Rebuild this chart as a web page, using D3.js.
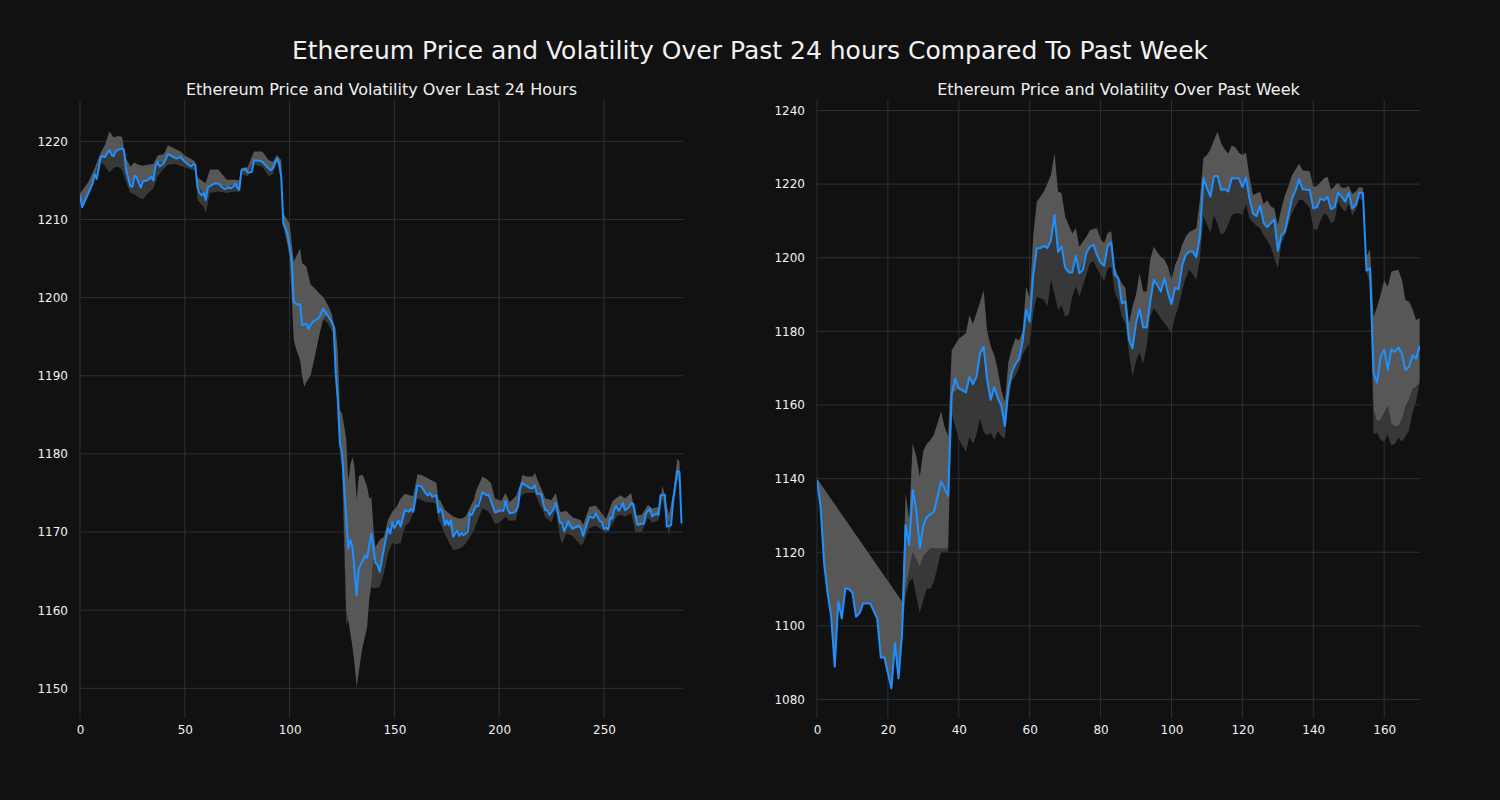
<!DOCTYPE html>
<html><head><meta charset="utf-8">
<script src="https://cdn.jsdelivr.net/npm/d3@7"></script>
<style>body{margin:0;background:#111111;} svg{display:block}</style>
</head><body>
<svg id="chart" width="1500" height="800"></svg>
<script>
// ---------- Past 24 hours (5-minute steps) ----------
const dayX = [0,1,4,6,7,8,10,12,13,14,15,16,17,18,20,21,22,24,25,26,27,29,30,32,34,35,36,37,38,40,42,44,46,48,50,52,53,54,55,56,57,58,59,60,61,64,66,68,69,71,72,73,74,75,76,77,79,80,82,83,86,87,89,91,92,94,95,96,97,99,101,102,103,104,105,106,108,109,110,111,114,116,118,120,121,122,123,124,125,128,129,130,132,133,135,136,137,139,141,142,143,145,147,148,149,150,152,153,155,157,158,159,161,163,165,166,167,168,170,171,172,173,174,175,176,177,178,180,181,182,183,185,186,187,189,190,192,194,195,196,198,200,201,202,203,204,205,207,208,209,210,211,213,215,216,217,218,220,221,222,223,224,226,227,229,230,231,233,235,236,238,239,240,241,243,245,246,248,249,250,251,252,253,254,255,256,257,259,260,262,263,264,266,267,269,270,272,273,275,276,277,279,280,282,283,285,286,287];
const dayPrice = [1213.1,1211.6,1213.4,1214.6,1215.8,1215.2,1218.1,1218.0,1218.5,1218.9,1218.3,1218.1,1218.7,1218.9,1219.1,1218.9,1216.3,1214.3,1214.2,1215.6,1215.4,1214.1,1214.9,1215.0,1215.5,1215.0,1216.8,1217.4,1216.8,1217.2,1218.4,1218.1,1217.8,1218.0,1217.4,1217.0,1216.8,1217.1,1217.0,1214.2,1213.4,1213.1,1213.4,1212.5,1214.1,1214.6,1214.6,1214.1,1213.9,1214.1,1214.0,1214.2,1214.6,1214.1,1213.8,1216.3,1216.5,1216.0,1216.1,1217.6,1217.5,1217.4,1216.8,1216.3,1216.6,1217.8,1217.2,1215.5,1209.5,1208.2,1204.8,1199.5,1199.2,1199.1,1199.2,1196.5,1196.7,1196.0,1196.5,1196.9,1197.4,1198.6,1197.8,1196.9,1196.3,1190.3,1186.9,1181.3,1180.1,1167.9,1169.0,1168.0,1161.9,1165.3,1166.4,1167.0,1166.7,1169.8,1166.0,1165.8,1164.9,1167.9,1170.5,1169.8,1171.3,1170.5,1171.5,1170.7,1172.8,1172.6,1173.0,1172.6,1176.0,1175.8,1174.9,1174.7,1175.0,1174.5,1174.7,1172.5,1173.0,1172.4,1170.9,1171.5,1170.9,1171.5,1169.4,1170.2,1169.5,1169.9,1169.6,1170.0,1172.4,1172.2,1173.4,1173.3,1175.1,1174.7,1174.8,1174.0,1172.5,1172.7,1172.8,1172.7,1174.0,1172.9,1172.4,1172.5,1172.7,1173.3,1175.6,1176.3,1175.9,1175.6,1175.6,1176.0,1174.9,1174.9,1173.7,1172.8,1172.8,1172.2,1173.0,1173.7,1171.2,1171.2,1170.1,1171.4,1170.4,1170.6,1170.8,1170.5,1169.5,1170.3,1172.0,1171.8,1172.4,1171.4,1171.3,1170.4,1170.6,1170.3,1171.9,1171.7,1173.0,1173.3,1172.7,1173.7,1172.8,1173.2,1173.7,1173.6,1170.9,1171.0,1171.1,1172.4,1173.0,1172.0,1172.4,1172.2,1174.7,1174.8,1170.7,1170.9,1174.1,1177.8,1177.7,1171.1];
// volatility band: top of light band, light/dark boundary, bottom of dark band
const dayBandX   = [0,1,4,7,10,12,14,16,18,20,22,24,26,28,30,32,35,37,40,42,45,48,50,54,55,56,59,60,62,66,70,74,76,77,80,83,87,90,92,94,96,97,100,102,103,105,106,107,108,110,112,114,116,118,120,121,122,123,124,125,127,128,129,130,131,132,133,134,135,137,138,139,140,141,143,145,147,149,151,153,155,157,159,161,163,165,168,170,171,172,174,176,178,180,182,184,186,188,189,192,194,196,198,201,203,205,208,210,211,213,216,217,219,221,222,225,227,229,230,232,235,239,240,243,246,249,251,254,256,258,260,263,265,268,271,273,276,278,281,283,285,286,287];
const dayBandHi  = [1213.4,1213.7,1214.8,1216.6,1218.6,1219.6,1221.3,1220.5,1220.7,1220.6,1217.8,1216.8,1217.3,1217.0,1216.9,1217.0,1217.1,1218.2,1218.4,1219.5,1219.1,1218.7,1218.2,1217.6,1217.4,1215.4,1214.8,1214.7,1216.4,1216.4,1215.1,1215.1,1215.0,1216.6,1216.7,1218.7,1218.7,1217.6,1217.4,1218.3,1217.6,1210.8,1209.5,1204.6,1205.2,1206.3,1204.4,1204.2,1204.0,1201.7,1201.2,1200.6,1200.1,1199.2,1198.0,1196.8,1196.0,1193.0,1185.6,1185.2,1182.0,1176.6,1178.6,1179.6,1178.3,1174.1,1177.1,1177.3,1177.3,1175.8,1174.3,1174.5,1170.5,1168.1,1169.0,1169.4,1171.6,1172.6,1173.2,1174.3,1174.9,1174.7,1174.6,1177.4,1177.3,1177.0,1176.6,1176.3,1174.2,1174.0,1172.9,1172.4,1172.0,1171.8,1171.7,1172.0,1173.1,1174.2,1175.3,1177.1,1176.8,1176.3,1174.3,1174.0,1175.0,1173.8,1174.6,1176.0,1177.3,1177.1,1177.1,1177.6,1176.2,1175.0,1174.3,1174.1,1175.0,1172.6,1172.6,1172.7,1171.9,1171.5,1170.9,1173.2,1173.4,1172.4,1171.7,1173.9,1174.4,1174.7,1174.3,1175.0,1172.1,1172.2,1173.5,1173.0,1173.2,1175.9,1172.2,1175.0,1179.4,1179.0,1171.5];
const dayBandMid = [1213.1,1211.6,1213.4,1215.6,1218.1,1218.0,1218.9,1218.1,1218.9,1219.1,1216.3,1214.3,1215.6,1214.6,1214.9,1215.0,1215.0,1217.4,1217.2,1218.4,1218.0,1218.0,1217.4,1217.1,1217.0,1214.2,1213.4,1212.5,1214.3,1214.6,1214.0,1214.6,1213.8,1216.3,1216.0,1217.6,1217.4,1216.5,1216.6,1217.8,1215.5,1209.5,1205.5,1194.6,1193.5,1192.0,1189.9,1188.6,1189.2,1190.0,1192.4,1195.0,1197.2,1197.8,1196.9,1196.3,1190.3,1186.9,1181.3,1180.1,1160.0,1158.7,1157.0,1155.3,1153.0,1150.2,1152.0,1154.0,1155.5,1157.8,1161.3,1163.2,1166.5,1166.0,1164.9,1167.9,1170.5,1171.3,1171.0,1170.7,1172.8,1172.6,1172.6,1176.0,1175.8,1174.9,1174.5,1174.7,1172.5,1173.0,1170.9,1170.9,1169.4,1170.2,1169.9,1169.8,1172.4,1172.8,1173.4,1175.1,1174.7,1174.0,1172.5,1172.8,1174.0,1172.4,1172.7,1175.6,1176.3,1175.9,1175.6,1176.0,1174.9,1173.7,1172.8,1172.6,1173.7,1171.2,1171.2,1170.8,1170.4,1170.5,1169.5,1172.0,1172.4,1171.3,1170.6,1171.7,1173.3,1173.5,1172.8,1173.7,1171.0,1171.0,1172.6,1172.0,1172.2,1174.8,1170.8,1174.1,1177.8,1177.7,1171.1];
const dayBandLo  = [1212.9,1211.4,1213.0,1215.0,1217.4,1216.8,1216.0,1216.6,1216.8,1216.4,1214.8,1213.4,1213.2,1212.8,1212.6,1213.2,1214.0,1215.5,1216.5,1217.0,1217.1,1216.9,1216.7,1216.3,1216.3,1212.5,1211.6,1210.8,1213.4,1213.6,1213.4,1213.6,1213.5,1215.8,1215.5,1217.0,1216.8,1215.5,1215.8,1217.3,1215.2,1209.2,1205.2,1194.6,1193.5,1192.0,1189.9,1188.6,1189.2,1190.0,1192.4,1195.0,1197.2,1196.8,1195.8,1195.5,1189.8,1186.5,1180.0,1178.5,1158.0,1158.7,1157.0,1155.3,1153.0,1150.2,1152.0,1154.0,1155.5,1157.8,1161.3,1163.0,1162.8,1162.8,1163.0,1164.7,1167.3,1168.6,1168.4,1168.6,1170.7,1171.2,1172.4,1174.3,1174.1,1173.8,1173.8,1173.6,1171.6,1171.1,1169.8,1168.7,1167.7,1167.8,1168.0,1168.5,1169.3,1170.2,1171.0,1173.0,1172.8,1172.2,1171.0,1171.4,1172.0,1171.4,1171.5,1174.3,1174.8,1175.0,1175.0,1175.0,1173.7,1172.6,1171.9,1171.3,1172.8,1169.3,1168.5,1169.8,1169.5,1168.3,1168.5,1170.5,1170.8,1170.3,1169.8,1171.0,1172.0,1172.2,1172.0,1172.4,1170.0,1170.0,1171.8,1171.2,1171.5,1174.1,1169.6,1172.8,1176.7,1176.2,1170.0];
const dayXTicks = [0,50,100,150,200,250];
const dayYTicks = [1150,1160,1170,1180,1190,1200,1210,1220];

// ---------- Past week (hourly steps) ----------
const weekX = [0,1,2,3,4,5,6,7,8,9,10,11,12,13,15,17,18,19,21,22,23,24,25,26,27,28,29,30,31,33,35,37,38,39,40,42,43,44,45,46,47,48,49,50,51,52,53,54,55,56,57,58,59,60,61,62,63,64,65,66,67,68,69,70,71,72,73,74,75,76,77,78,79,80,81,82,83,84,85,86,87,88,89,90,91,92,93,94,95,96,97,98,99,100,101,102,103,104,105,106,107,108,109,110,111,112,113,114,115,116,117,118,119,120,121,122,123,124,125,126,127,128,129,130,131,132,133,134,135,136,137,139,140,141,142,143,144,145,146,147,148,149,150,151,152,153,154,155,156,157,158,159,160,161,162,163,164,165,166,167,168,169,170];
const weekPrice = [1139.6,1132.4,1117.0,1108.8,1102.5,1088.9,1106.6,1102.0,1110.2,1110.0,1109.0,1102.5,1103.4,1106.1,1106.1,1102.0,1091.4,1091.4,1083.0,1095.3,1085.7,1097.9,1127.4,1122.0,1136.9,1131.5,1121.1,1127.4,1129.6,1131.0,1139.2,1135.3,1162.9,1167.2,1164.5,1163.4,1167.6,1165.6,1167.7,1174.0,1175.8,1166.8,1161.4,1164.8,1161.9,1159.8,1154.3,1164.6,1169.0,1171.2,1172.5,1177.2,1185.8,1182.6,1195.3,1202.6,1202.6,1203.2,1202.6,1204.8,1211.6,1201.6,1203.0,1197.3,1196.0,1196.0,1200.5,1195.8,1196.7,1201.4,1203.0,1203.5,1200.7,1198.7,1197.8,1203.2,1204.1,1195.3,1194.4,1187.6,1188.1,1177.8,1175.4,1182.2,1186.0,1181.1,1181.1,1188.1,1194.0,1192.6,1190.8,1194.4,1190.4,1187.4,1191.9,1191.4,1197.8,1200.7,1201.7,1201.7,1200.1,1205.7,1221.6,1218.9,1216.6,1222.2,1222.2,1218.4,1218.6,1218.0,1221.6,1221.6,1221.6,1219.2,1221.8,1216.0,1212.0,1211.3,1214.1,1209.4,1208.3,1209.4,1210.4,1201.9,1206.1,1207.1,1211.6,1216.1,1218.3,1221.3,1218.6,1218.4,1213.4,1213.7,1216.1,1215.6,1216.5,1213.2,1213.7,1217.7,1216.6,1215.2,1217.7,1213.4,1214.3,1217.7,1217.5,1196.5,1197.1,1168.6,1166.1,1173.1,1175.1,1169.6,1175.1,1174.4,1175.6,1174.0,1169.5,1170.4,1173.5,1172.6,1176.0];
const weekBandX   = [0,1,2,3,4,5,6,7,8,9,10,11,12,13,15,17,18,19,21,22,23,24,25,26,27,28,29,30,31,32,33,35,36,37,38,40,42,43,44,45,46,47,48,49,50,51,52,53,54,55,56,57,58,59,60,61,62,64,65,66,67,68,69,70,71,72,73,74,76,77,78,79,80,81,82,83,84,85,86,87,88,89,90,91,92,93,94,95,96,97,98,99,100,101,102,103,104,105,106,107,108,109,110,111,112,113,114,115,116,117,118,119,120,121,122,123,124,125,126,127,128,129,130,131,132,133,134,135,136,137,139,140,141,142,143,144,145,146,147,148,149,150,151,152,153,154,155,156,157,158,159,160,161,162,163,164,165,166,167,168,169,170];
const weekBandHi  = [1140.0,null,null,null,null,null,null,null,null,null,null,null,null,null,null,null,null,null,null,null,null,1106.6,1136.0,1129.0,1149.6,1146.0,1140.5,1147.6,1149.5,1150.5,1152.0,1158.2,1154.0,1151.5,1174.9,1178.0,1179.5,1184.4,1182.1,1185.0,1188.0,1191.2,1180.0,1176.0,1173.6,1169.5,1164.0,1160.9,1171.7,1175.4,1178.1,1177.5,1180.0,1192.1,1189.0,1206.0,1215.2,1217.9,1220.2,1222.5,1228.4,1218.0,1217.5,1211.2,1208.9,1206.6,1208.0,1203.0,1205.7,1207.5,1207.8,1208.0,1205.0,1204.0,1206.7,1207.2,1197.6,1194.9,1193.0,1191.8,1182.2,1186.7,1190.0,1195.8,1190.8,1190.8,1199.4,1203.0,1201.5,1200.3,1199.5,1197.6,1194.0,1198.0,1200.3,1203.5,1205.7,1207.0,1207.5,1208.0,1215.7,1227.0,1227.9,1229.5,1232.0,1234.2,1231.1,1229.5,1228.3,1230.5,1230.0,1228.5,1227.9,1228.5,1222.0,1217.0,1217.5,1217.9,1214.5,1215.6,1214.0,1213.4,1208.9,1213.4,1217.0,1219.5,1222.4,1224.0,1225.5,1223.7,1223.5,1219.3,1219.5,1220.5,1221.5,1222.0,1218.5,1219.5,1220.4,1219.0,1219.0,1219.5,1217.3,1218.0,1219.2,1219.0,1200.3,1202.3,1184.0,1186.7,1190.0,1193.9,1192.1,1196.2,1196.5,1196.7,1194.0,1188.5,1188.1,1186.0,1183.1,1183.6];
const weekBandMid = [1139.6,1132.4,1117.0,1108.8,1102.5,1088.9,1106.6,1102.0,1110.2,1110.0,1109.0,1102.5,1103.4,1106.1,1106.1,1102.0,1091.4,1091.4,1083.0,1095.3,1085.7,1097.9,1110.0,1115.0,1120.0,1118.0,1116.0,1119.0,1120.0,1121.0,1121.0,1121.0,1121.0,1121.0,1162.9,1164.5,1163.4,1167.6,1165.6,1167.7,1174.0,1175.8,1166.8,1161.4,1164.8,1161.9,1159.8,1154.3,1164.6,1169.0,1171.2,1172.5,1177.2,1185.8,1182.6,1195.3,1202.6,1203.2,1202.6,1204.8,1211.6,1201.6,1203.0,1197.3,1196.0,1196.0,1200.5,1195.8,1201.4,1203.0,1203.5,1200.7,1198.7,1197.8,1203.2,1204.1,1195.3,1194.4,1187.6,1188.1,1177.8,1175.4,1182.2,1186.0,1181.1,1181.1,1188.1,1194.0,1192.6,1190.8,1194.4,1190.4,1187.4,1191.9,1191.4,1197.8,1200.7,1201.7,1201.7,1200.1,1205.7,1221.6,1218.9,1216.6,1222.2,1222.2,1218.4,1218.6,1218.0,1221.6,1221.6,1221.6,1219.2,1221.8,1216.0,1212.0,1211.3,1214.1,1209.4,1208.3,1209.4,1210.4,1201.9,1206.1,1207.1,1211.6,1216.1,1218.3,1221.3,1218.6,1218.4,1213.4,1213.7,1216.1,1215.6,1216.5,1213.2,1213.7,1217.7,1216.6,1215.2,1217.7,1213.4,1214.3,1217.7,1217.5,1196.5,1197.1,1158.6,1155.5,1156.0,1157.9,1159.7,1155.0,1154.2,1154.3,1156.0,1159.7,1161.5,1164.3,1165.0,1166.1];
const weekBandLo  = [1139.6,1132.4,1117.0,1108.8,1102.5,1088.9,1106.6,1102.0,1110.2,1110.0,1109.0,1102.5,1103.4,1106.1,1106.1,1102.0,1091.4,1091.4,1083.0,1095.3,1085.7,1097.9,1108.0,1112.0,1113.0,1108.0,1103.4,1107.0,1110.2,1110.0,1112.0,1120.1,1120.1,1120.1,1157.7,1150.6,1147.3,1151.4,1149.5,1152.0,1156.3,1152.7,1151.8,1152.5,1150.6,1153.0,1151.5,1150.9,1161.0,1166.5,1168.0,1170.1,1173.7,1175.4,1177.0,1185.0,1189.4,1188.5,1186.7,1194.0,1190.0,1185.8,1187.0,1184.0,1184.5,1189.4,1192.2,1189.5,1195.4,1198.5,1199.0,1197.0,1195.4,1193.6,1197.0,1197.6,1190.4,1188.5,1184.0,1182.2,1174.1,1167.7,1172.0,1174.1,1171.3,1176.0,1184.0,1186.3,1185.0,1183.5,1182.2,1181.0,1179.5,1184.0,1186.7,1191.0,1194.5,1196.8,1195.5,1194.0,1199.4,1211.2,1209.0,1206.7,1211.6,1209.0,1206.2,1207.0,1209.0,1211.6,1212.0,1212.1,1211.6,1214.7,1210.8,1209.6,1208.6,1208.0,1206.0,1204.8,1203.0,1200.0,1197.1,1203.8,1206.0,1209.0,1212.1,1214.0,1215.7,1215.7,1213.5,1208.0,1207.5,1210.0,1212.0,1211.5,1209.4,1210.0,1215.2,1213.5,1212.5,1214.5,1211.5,1213.0,1216.0,1215.5,1196.2,1193.0,1152.0,1152.5,1150.5,1150.1,1152.0,1149.0,1149.5,1151.0,1150.0,1151.5,1153.0,1158.0,1161.0,1166.0];
const weekXTicks = [0,20,40,60,80,100,120,140,160];
const weekYTicks = [1080,1100,1120,1140,1160,1180,1200,1220,1240];

const mainTitle = "Ethereum Price and Volatility Over Past 24 hours Compared To Past Week";
const dayTitle = "Ethereum Price and Volatility Over Last 24 Hours";
const weekTitle = "Ethereum Price and Volatility Over Past Week";

const svg = d3.select("#chart");
svg.append("rect").attr("width",1500).attr("height",800).attr("fill","#111111");

svg.append("text").attr("x",750).attr("y",59).attr("text-anchor","middle")
  .attr("font-family","DejaVu Sans").attr("font-size",25).attr("fill","#f2f2f2").text(mainTitle);

function panel(o){
  const {left,right,top,bottom,xDom,yDom} = o;
  const x = d3.scaleLinear().domain(xDom).range([left,right]);
  const y = d3.scaleLinear().domain(yDom).range([bottom,top]);
  const g = svg.append("g");
  const clipId = "clip"+o.id;
  g.append("clipPath").attr("id",clipId).append("rect")
    .attr("x",left).attr("y",top).attr("width",right-left).attr("height",bottom-top);
  // grid
  g.selectAll(".gx").data(o.xTicks).enter().append("line")
    .attr("x1",d=>x(d)).attr("x2",d=>x(d)).attr("y1",top).attr("y2",bottom)
    .attr("stroke","#29313d").attr("stroke-width",1);
  g.selectAll(".gy").data(o.yTicks).enter().append("line")
    .attr("x1",left).attr("x2",right).attr("y1",d=>y(d)).attr("y2",d=>y(d))
    .attr("stroke","#29313d").attr("stroke-width",1);
  const plot = g.append("g").attr("clip-path",`url(#${clipId})`);
  const band = o.bx.map((v,i)=>({x:v,hi:o.hi[i],mid:o.mid[i],lo:o.lo[i]}));
  // dark band: lo..mid
  plot.append("path").datum(band)
    .attr("d", d3.area().x(d=>x(d.x)).y0(d=>y(d.lo)).y1(d=>y(d.mid)))
    .attr("fill","#383838");
  // light band: mid..hi (hi may be missing at the start)
  const topPts = band.filter(d=>d.hi!==null).map(d=>[x(d.x),y(d.hi)]);
  const botPts = band.map(d=>[x(d.x),y(d.mid)]).reverse();
  plot.append("path").attr("d", d3.line()(topPts.concat(botPts))+"Z").attr("fill","#575757");
  // price line
  const pts = o.px.map((v,i)=>[x(v),y(o.py[i])]);
  plot.append("path").attr("d",d3.line()(pts)).attr("fill","none")
    .attr("stroke","#1e90ff").attr("stroke-width",2).attr("stroke-linejoin","round");
  // axes
  const ax = g.append("g").attr("transform",`translate(0,${bottom})`)
    .call(d3.axisBottom(x).tickValues(o.xTicks).tickFormat(d3.format("d")).tickSize(0).tickPadding(7));
  const ay = g.append("g").attr("transform",`translate(${left},0)`)
    .call(d3.axisLeft(y).tickValues(o.yTicks).tickFormat(d3.format("d")).tickSize(0).tickPadding(12));
  [ax,ay].forEach(a=>{
    a.select(".domain").remove();
    a.selectAll("text").attr("font-family","DejaVu Sans").attr("font-size",12).attr("fill","#f0f0f0");
  });
  g.append("text").attr("x",(left+right)/2).attr("y",95).attr("text-anchor","middle")
    .attr("font-family","DejaVu Sans").attr("font-size",16).attr("fill","#f0f0f0").text(o.title);
}

panel({id:"day",left:80,right:683,top:100,bottom:718,xDom:[0,287.7],yDom:[1146.2,1225.3],
  xTicks:dayXTicks,yTicks:dayYTicks,px:dayX,py:dayPrice,bx:dayBandX,hi:dayBandHi,mid:dayBandMid,lo:dayBandLo,title:dayTitle});
panel({id:"week",left:817,right:1420,top:100,bottom:718,xDom:[0,170.1],yDom:[1074.97,1242.85],
  xTicks:weekXTicks,yTicks:weekYTicks,px:weekX,py:weekPrice,bx:weekBandX,hi:weekBandHi,mid:weekBandMid,lo:weekBandLo,title:weekTitle});
</script>
</body></html>
